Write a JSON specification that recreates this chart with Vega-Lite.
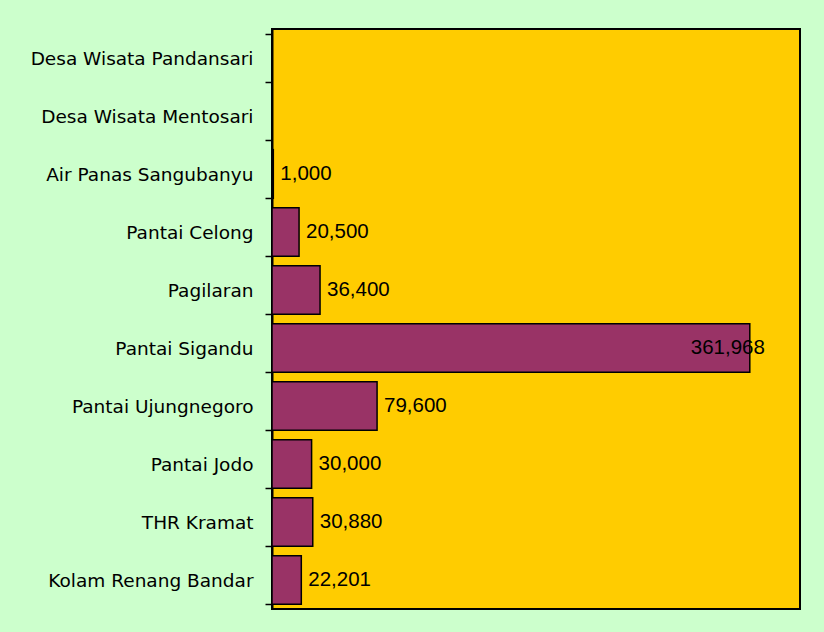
{
  "$schema": "https://vega.github.io/schema/vega-lite/v6.json",
  "width": 528,
  "height": 580,
  "autosize": "none",
  "padding": {"left": 272, "top": 29, "right": 24, "bottom": 23},
  "background": "#CCFFCC",
  "data": {
    "values": [
      {"place": "Desa Wisata Pandansari", "visitors": null},
      {"place": "Desa Wisata Mentosari", "visitors": null},
      {"place": "Air Panas Sangubanyu", "visitors": 1000},
      {"place": "Pantai Celong", "visitors": 20500},
      {"place": "Pagilaran", "visitors": 36400},
      {"place": "Pantai Sigandu", "visitors": 361968},
      {"place": "Pantai Ujungnegoro", "visitors": 79600},
      {"place": "Pantai Jodo", "visitors": 30000},
      {"place": "THR Kramat", "visitors": 30880},
      {"place": "Kolam Renang Bandar", "visitors": 22201}
    ]
  },
  "encoding": {
    "y": {
      "field": "place",
      "type": "nominal",
      "sort": null,
      "scale": {
        "domain": ["Desa Wisata Pandansari", "Desa Wisata Mentosari", "Air Panas Sangubanyu", "Pantai Celong", "Pagilaran", "Pantai Sigandu", "Pantai Ujungnegoro", "Pantai Jodo", "THR Kramat", "Kolam Renang Bandar"],
        "paddingInner": 0.16,
        "paddingOuter": 0.08
      },
      "axis": {
        "title": null,
        "tickBand": "extent",
        "tickSize": 7,
        "tickWidth": 1.5,
        "tickColor": "#000000",
        "domainColor": "#000000",
        "domainWidth": 2,
        "labelFont": "DejaVu Sans",
        "labelFontSize": 18.5,
        "labelColor": "#000000",
        "labelPadding": 12,
        "labelLimit": 300
      }
    }
  },
  "layer": [
    {
      "mark": {"type": "bar", "color": "#993366", "stroke": "#000000", "strokeWidth": 1.5},
      "encoding": {
        "x": {"field": "visitors", "type": "quantitative", "scale": {"domain": [0, 400000]}, "axis": null}
      }
    },
    {
      "transform": [{"filter": "isValid(datum.visitors) && datum.visitors < 300000"}],
      "mark": {"type": "text", "align": "left", "baseline": "middle", "dx": 7, "font": "Liberation Sans", "fontSize": 20.5, "color": "#000000"},
      "encoding": {
        "x": {"field": "visitors", "type": "quantitative"},
        "text": {"field": "visitors", "type": "quantitative", "format": ",d"}
      }
    },
    {
      "transform": [{"filter": "isValid(datum.visitors) && datum.visitors >= 300000"}],
      "mark": {"type": "text", "align": "left", "baseline": "middle", "dx": -59, "font": "Liberation Sans", "fontSize": 20.5, "color": "#000000"},
      "encoding": {
        "x": {"field": "visitors", "type": "quantitative"},
        "text": {"field": "visitors", "type": "quantitative", "format": ",d"}
      }
    }
  ],
  "config": {
    "view": {"fill": "#FFCC00", "stroke": "#000000", "strokeWidth": 2}
  }
}
